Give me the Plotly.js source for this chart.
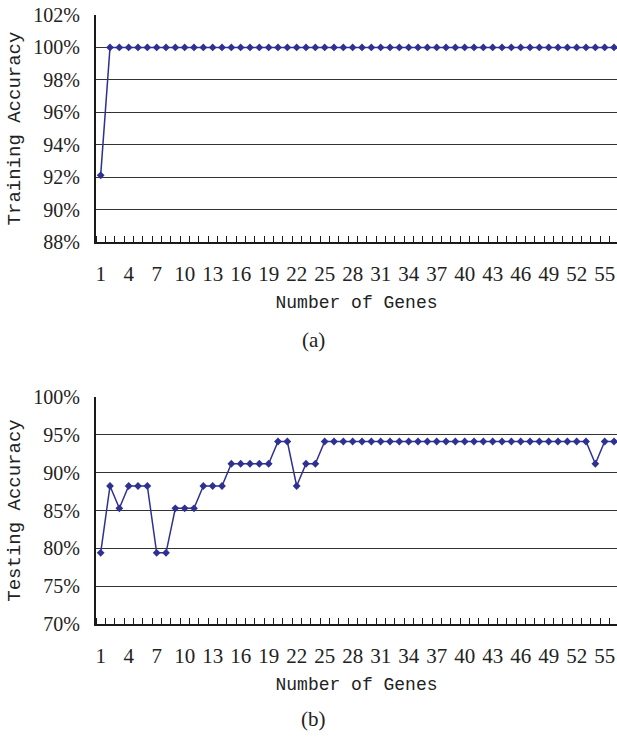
<!DOCTYPE html>
<html>
<head>
<meta charset="utf-8">
<script src="https://cdn.plot.ly/plotly-3.0.1.min.js"></script>
<style>html,body{margin:0;padding:0;background:#fff;}#chart{width:617px;height:738px;}</style>
</head>
<body>
<div id="chart"></div>
<script>
// Number of genes (categories)
const genes = [1,2,3,4,5,6,7,8,9,10,11,12,13,14,15,16,17,18,19,20,21,22,23,24,25,26,27,28,
  29,30,31,32,33,34,35,36,37,38,39,40,41,42,43,44,45,46,47,48,49,50,51,52,53,54,55,56];
// Training accuracy (%)
const trainingAcc = [92.11,100,100,100,100,100,100,100,100,100,100,100,100,100,100,100,100,100,100,100,
  100,100,100,100,100,100,100,100,100,100,100,100,100,100,100,100,100,100,100,100,
  100,100,100,100,100,100,100,100,100,100,100,100,100,100,100,100];
// Testing accuracy (%)
const testingAcc = [79.41,88.24,85.29,88.24,88.24,88.24,79.41,79.41,85.29,85.29,85.29,88.24,88.24,88.24,
  91.18,91.18,91.18,91.18,91.18,94.12,94.12,88.24,91.18,91.18,
  94.12,94.12,94.12,94.12,94.12,94.12,94.12,94.12,94.12,94.12,94.12,94.12,94.12,94.12,94.12,
  94.12,94.12,94.12,94.12,94.12,94.12,94.12,94.12,94.12,94.12,94.12,94.12,94.12,94.12,
  91.18,94.12,94.12];
const xTickLabelsStart = 1, xTickStep = 3;
const trainTicks = {min: 88, max: 102, step: 2};
const testTicks = {min: 70, max: 100, step: 5};

const W = 617, H = 738;
const px = v => v / W;
const py = v => 1 - v / H;
const lineColor = '#2E3192';
const serif = '"Liberation Serif", "Times New Roman", serif';
const mono = '"Liberation Mono", "Courier New", monospace';

function trace(y, xa, ya) {
  return {x: genes, y: y, xaxis: xa, yaxis: ya, type: 'scatter', mode: 'lines+markers',
    line: {color: lineColor, width: 1.5},
    marker: {symbol: 'diamond', size: 6, color: lineColor},
    hoverinfo: 'x+y', showlegend: false, cliponaxis: false};
}

function xAxis(anchor) {
  return {
    domain: [px(96), 1], range: [0.5, 56.32], anchor: anchor,
    tickmode: 'linear', tick0: xTickLabelsStart, dtick: xTickStep, ticks: '',
    showgrid: false, zeroline: false,
    showline: true, linecolor: '#1a1a1a', linewidth: 2,
    tickfont: {family: serif, size: 21, color: '#222'},
    ticklabelstandoff: 12,
    minor: {tick0: 0.5, dtick: 1, ticks: 'inside', ticklen: 6, tickcolor: '#1a1a1a', tickwidth: 1, showgrid: false},
    title: {text: 'Number of Genes', font: {family: mono, size: 18, color: '#222'}, standoff: 10}
  };
}
function yAxis(anchor, t, dom, title) {
  return {
    domain: dom, range: [t.min, t.max], anchor: anchor,
    tickmode: 'linear', tick0: t.min, dtick: t.step, ticksuffix: '%', ticks: '',
    showgrid: true, gridcolor: '#333', gridwidth: 1.2, zeroline: false,
    showline: true, linecolor: '#1a1a1a', linewidth: 2,
    tickfont: {family: serif, size: 20, color: '#222'},
    ticklabelstandoff: 10,
    title: {text: title, font: {family: mono, size: 19, color: '#222'}, standoff: 8}
  };
}

const layout = {
  width: W, height: H, margin: {l: 0, r: 0, t: 0, b: 0},
  paper_bgcolor: '#fff', plot_bgcolor: '#fff',
  xaxis: xAxis('y'),
  yaxis: yAxis('x', trainTicks, [py(242), py(15)], 'Training Accuracy'),
  xaxis2: xAxis('y2'),
  yaxis2: yAxis('x2', testTicks, [py(624), py(397)], 'Testing Accuracy'),
  annotations: [
    {text: '(a)', x: px(313), y: py(340), xref: 'paper', yref: 'paper', yanchor: 'middle', showarrow: false,
     font: {family: serif, size: 21, color: '#222'}},
    {text: '(b)', x: px(313), y: py(719), xref: 'paper', yref: 'paper', yanchor: 'middle', showarrow: false,
     font: {family: serif, size: 21, color: '#222'}}
  ]
};

Plotly.newPlot('chart', [trace(trainingAcc, 'x', 'y'), trace(testingAcc, 'x2', 'y2')], layout,
  {displayModeBar: false, staticPlot: true});
</script>
</body>
</html>
